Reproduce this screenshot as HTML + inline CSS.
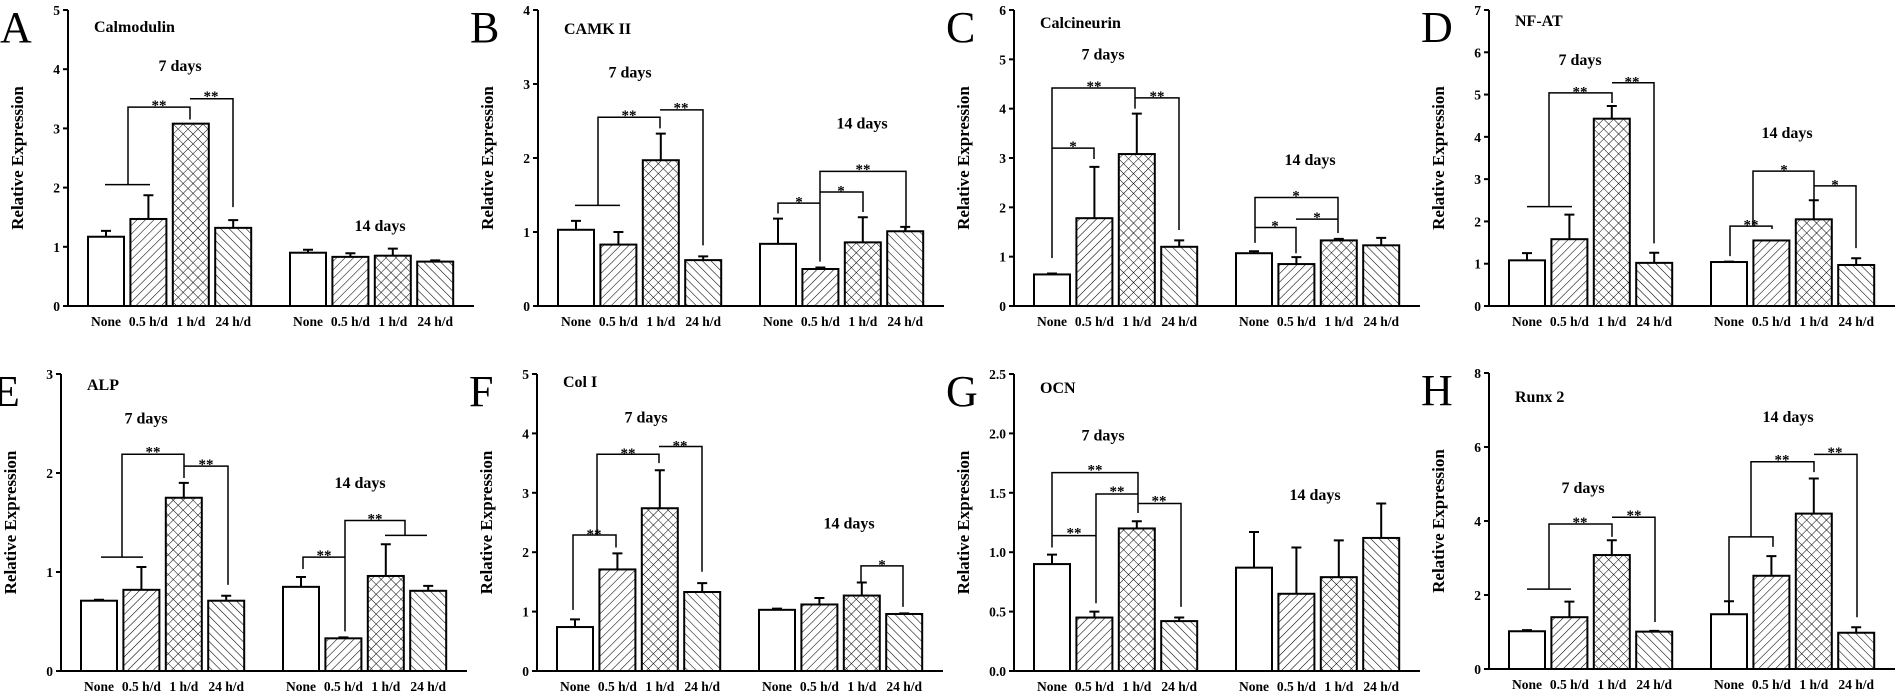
<!DOCTYPE html>
<html><head><meta charset="utf-8">
<style>
html,body{margin:0;padding:0;background:#fff;}
svg{display:block;font-family:"Liberation Serif",serif;}
</style></head>
<body>
<svg id="s" width="1900" height="697" viewBox="0 0 1900 697" xmlns="http://www.w3.org/2000/svg">
<defs>
<pattern id="p1" patternUnits="userSpaceOnUse" width="6" height="6" patternTransform="rotate(45)"><rect width="6" height="6" fill="#fff"/><line x1="0" y1="0" x2="0" y2="6" stroke="#000" stroke-width="1.1"/></pattern>
<pattern id="p3" patternUnits="userSpaceOnUse" width="6" height="6" patternTransform="rotate(-45)"><rect width="6" height="6" fill="#fff"/><line x1="0" y1="0" x2="0" y2="6" stroke="#000" stroke-width="1.1"/></pattern>
<pattern id="p2" patternUnits="userSpaceOnUse" width="7" height="7" patternTransform="rotate(45)"><rect width="7" height="7" fill="#fff"/><line x1="0" y1="0" x2="0" y2="7" stroke="#000" stroke-width="1"/><line x1="0" y1="0" x2="7" y2="0" stroke="#000" stroke-width="1"/></pattern>
</defs>
</svg>
<script>
const S=document.getElementById('s');let h='';
const P=[
{L:'A',t:'Calmodulin',ax:68,top:10,z:306,max:5,ty:32,ticks:[0,1,2,3,4,5],
v:[1.17,1.47,3.08,1.32,0.9,0.83,0.85,0.75],e:[0.1,0.4,0,0.13,0.05,0.06,0.12,0.02],
br:[[[37,2.05],[82,2.05]],[[60,2.05],[60,3.36],[122,3.36],[122,3.15]],[[122,3.5],[165,3.5],[165,1.67]]],
st:[['**',91,3.45],['**',143,3.6]],d7:[112,3.97],d14:[312,1.27]},
{L:'B',t:'CAMK II',ax:538,top:10,z:306,max:4,ty:34,ticks:[0,1,2,3,4],
v:[1.03,0.83,1.97,0.62,0.84,0.5,0.86,1.01],e:[0.12,0.17,0.36,0.05,0.34,0.02,0.34,0.06],
br:[[[37,1.36],[82,1.36]],[[60,1.36],[60,2.55],[122,2.55],[122,2.4]],[[122,2.65],[165,2.65],[165,0.82]],
[[240,1.25],[240,1.39],[282,1.39]],[[282,0.6],[282,1.82],[368,1.82],[368,1.03]],[[282,1.54],[325,1.54],[325,1.27]]],
st:[['**',91,2.62],['**',143,2.72],['*',261,1.45],['*',303,1.6],['**',325,1.89]],d7:[92,3.09],d14:[324,2.4]},
{L:'C',t:'Calcineurin',ax:1014,top:10,z:306,max:6,ty:28,ticks:[0,1,2,3,4,5,6],
v:[0.64,1.78,3.08,1.2,1.07,0.85,1.33,1.23],e:[0.02,1.04,0.82,0.13,0.04,0.14,0.03,0.15],
br:[[[38,0.97],[38,4.42],[121,4.42],[121,4.0]],[[121,4.22],[165,4.22],[165,1.54]],[[38,3.2],[80,3.2],[80,2.98]],
[[241,1.28],[241,2.2],[324,2.2],[324,1.48]],[[241,1.59],[282,1.59],[282,1.07]],[[282,1.76],[324,1.76]]],
st:[['**',80,4.52],['**',143,4.32],['*',59,3.3],['*',282,2.3],['*',261,1.69],['*',303,1.86]],d7:[89,5.0],d14:[296,2.86]},
{L:'D',t:'NF-AT',ax:1489,top:10,z:306,max:7,ty:26,ticks:[0,1,2,3,4,5,6,7],
v:[1.08,1.58,4.43,1.02,1.04,1.55,2.05,0.97],e:[0.17,0.58,0.3,0.24,0.01,0,0.45,0.16],
br:[[[38,2.35],[83,2.35]],[[60,2.35],[60,5.04],[123,5.04],[123,4.8]],[[123,5.28],[165,5.28],[165,1.48]],
[[241,1.18],[241,1.89],[283,1.89],[283,1.82]],[[264,1.89],[264,3.19],[325,3.19],[325,2.5]],[[325,2.84],[367,2.84],[367,1.37]]],
st:[['**',91,5.14],['**',143,5.38],['**',262,2.0],['*',295,3.3],['*',346,2.95]],d7:[91,5.7],d14:[298,3.97]},
{L:'E',t:'ALP',ax:61,top:374,z:671,max:3,ty:390,ticks:[0,1,2,3],
v:[0.71,0.82,1.75,0.71,0.85,0.33,0.96,0.81],e:[0.01,0.23,0.15,0.05,0.1,0.01,0.32,0.05],
br:[[[40,1.15],[82,1.15]],[[61,1.15],[61,2.19],[123,2.19],[123,1.95]],[[123,2.07],[167,2.07],[167,0.87]],
[[242,1.03],[242,1.15],[284,1.15]],[[284,0.4],[284,1.52],[344,1.52],[344,1.37]],[[324,1.37],[366,1.37]]],
st:[['**',92,2.25],['**',145,2.12],['**',263,1.2],['**',314,1.57]],d7:[85,2.5],d14:[299,1.85]},
{L:'F',t:'Col I',ax:537,top:374,z:671,max:5,ty:387,ticks:[0,1,2,3,4,5],
v:[0.74,1.71,2.74,1.33,1.03,1.12,1.27,0.96],e:[0.13,0.27,0.64,0.15,0.02,0.11,0.22,0.01],
br:[[[36,1.03],[36,2.29],[79,2.29],[79,2.08]],[[60,2.29],[60,3.65],[122,3.65],[122,3.5]],[[122,3.78],[165,3.78],[165,1.67]],
[[324,1.5],[324,1.77],[366,1.77],[366,1.08]]],
st:[['**',57,2.36],['**',91,3.72],['**',143,3.85],['*',345,1.84]],d7:[109,4.18],d14:[312,2.4]},
{L:'G',t:'OCN',ax:1014,top:374,z:671,max:2.5,ty:393,ticks:[0,0.5,1,1.5,2,2.5],dec:1,
v:[0.9,0.45,1.2,0.42,0.87,0.65,0.79,1.12],e:[0.08,0.05,0.06,0.03,0.3,0.39,0.31,0.29],
br:[[[38,1.04],[38,1.67],[124,1.67],[124,1.33]],[[38,1.14],[82,1.14]],[[82,0.57],[82,1.49],[124,1.49]],[[124,1.41],[167,1.41],[167,0.54]]],
st:[['**',81,1.72],['**',60,1.19],['**',103,1.54],['**',145,1.46]],d7:[89,1.94],d14:[301,1.44]},
{L:'H',t:'Runx 2',ax:1489,top:373,z:669,max:8,ty:402,ticks:[0,2,4,6,8],
v:[1.02,1.4,3.08,1.01,1.48,2.52,4.2,0.98],e:[0.03,0.42,0.4,0.02,0.35,0.53,0.95,0.15],
br:[[[38,2.16],[82,2.16]],[[60,2.16],[60,3.92],[123,3.92],[123,3.57]],[[123,4.1],[166,4.1],[166,1.27]],
[[240,1.6],[240,3.57],[284,3.57],[284,3.3]],[[262,3.57],[262,5.6],[325,5.6],[325,5.32]],[[325,5.8],[368,5.8],[368,1.4]]],
st:[['**',91,4.05],['**',145,4.25],['**',293,5.75],['**',346,5.95]],d7:[94,4.76],d14:[299,6.67]}
];
const fills=['#fff','url(#p1)','url(#p2)','url(#p3)'];
const labs=['None','0.5 h/d','1 h/d','24 h/d'];
P.forEach(p=>{
 const u=(p.z-p.top)/p.max, Y=v=>p.z-v*u, ax=p.ax;
 const cx=i=>ax+38+(i%4)*42.4+(i>=4?202:0);
 h+=`<text x="${ax-68}" y="${p.top+32}" font-size="44">${p.L}</text>`;
 h+=`<text x="${ax+26}" y="${p.ty}" font-size="16" font-weight="bold">${p.t}</text>`;
 // bars
 p.v.forEach((v,i)=>{const x=cx(i)-18;
  if(p.e[i]>0) h+=`<path d="M${cx(i)} ${Y(v)}V${Y(v+p.e[i])}M${cx(i)-5} ${Y(v+p.e[i])}H${cx(i)+5}" stroke="#000" stroke-width="2" fill="none"/>`;
  h+=`<rect x="${x}" y="${Y(v)}" width="36" height="${v*u}" fill="${fills[i%4]}" stroke="#000" stroke-width="2"/>`;
  h+=`<text x="${cx(i)}" y="${p.z+20}" font-size="13.5" font-weight="bold" text-anchor="middle">${labs[i%4]}</text>`;
 });
 // axes
 h+=`<path d="M${ax} ${p.top}V${p.z}H${ax+406}" stroke="#000" stroke-width="2" fill="none"/>`;
 p.ticks.forEach(t=>{h+=`<path d="M${ax-5} ${Y(t)}H${ax}" stroke="#000" stroke-width="2"/>`;
  h+=`<text x="${ax-8}" y="${Y(t)+5}" font-size="13.5" font-weight="bold" text-anchor="end">${p.dec?t.toFixed(1):t}</text>`;});
 const my=(p.top+p.z)/2;
 h+=`<text transform="translate(${ax-45},${my}) rotate(-90)" font-size="17" font-weight="bold" text-anchor="middle">Relative Expression</text>`;
 p.br.forEach(b=>{h+=`<polyline points="${b.map(q=>(ax+q[0])+','+Y(q[1])).join(' ')}" fill="none" stroke="#000" stroke-width="1.5"/>`;});
 p.st.forEach(s=>{h+=`<text x="${ax+s[1]}" y="${Y(s[2])+8}" font-size="15" font-weight="bold" text-anchor="middle">${s[0]}</text>`;});
 h+=`<text x="${ax+p.d7[0]}" y="${Y(p.d7[1])}" font-size="16" font-weight="bold" text-anchor="middle">7 days</text>`;
 h+=`<text x="${ax+p.d14[0]}" y="${Y(p.d14[1])}" font-size="16" font-weight="bold" text-anchor="middle">14 days</text>`;
});
S.insertAdjacentHTML('beforeend',h);
</script>
</body></html>
